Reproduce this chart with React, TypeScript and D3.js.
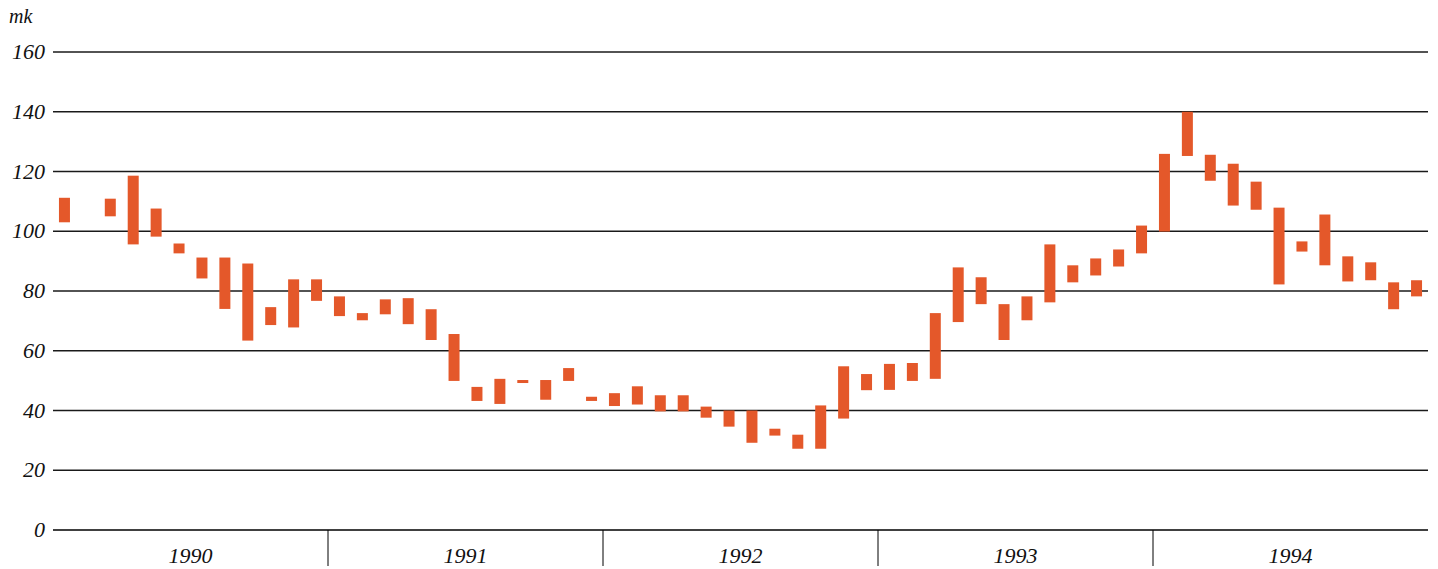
import React from "react";
import * as d3 from "d3";

const years = ["1990", "1991", "1992", "1993", "1994"];
const yTicks = [0, 20, 40, 60, 80, 100, 120, 140, 160];

// monthly low values (null = no data)
const lows: (number | null)[] = [
  103, null, 105, 95.6, 98.2, 92.6, 84.2, 74, 63.4, 68.6, 67.8, 76.7,
  71.6, 70.2, 72.2, 68.9, 63.6, 49.9, 43.2, 42.2, 49.2, 43.6, 49.9, 43.2,
  41.5, 42.0, 39.7, 39.7, 37.6, 34.6, 29.2, 31.6, 27.2, 27.2, 37.3, 46.8,
  46.9, 49.9, 50.6, 69.6, 75.6, 63.6, 70.2, 76.2, 82.9, 85.2, 88.2, 92.6,
  99.9, 125.2, 116.9, 108.6, 107.2, 82.2, 93.2, 88.6, 83.2, 83.6, 73.9, 78.2,
];
// monthly high values
const highs: (number | null)[] = [
  111.2, null, 110.9, 118.6, 107.6, 95.9, 91.2, 91.2, 89.2, 74.6, 83.9, 83.9,
  78.2, 72.6, 77.2, 77.6, 73.9, 65.6, 47.9, 50.6, 50.2, 50.2, 54.2, 44.6,
  45.8, 48.1, 45.1, 45.1, 41.3, 40.0, 40.0, 33.9, 31.9, 41.7, 54.8, 52.2,
  55.6, 55.9, 72.6, 87.9, 84.6, 75.6, 78.2, 95.6, 88.6, 90.9, 93.9, 101.9,
  125.9, 140.0, 125.6, 122.6, 116.6, 107.9, 96.6, 105.6, 91.6, 89.6, 82.9, 83.6,
];

const W = 1438;
const H = 569;
const left = 53;
const right = 1428;
const FONT = '"Liberation Serif", "DejaVu Serif", serif';
const textStyle: React.CSSProperties = {
  fontFamily: FONT,
  fontStyle: "italic",
  fontSize: 22,
};

export default function App() {
  const months = lows.map((_, i) => i);
  const x = d3
    .scaleBand<number>()
    .domain(months)
    .range([left, right])
    .paddingInner(0.52)
    .paddingOuter(0.26);
  const y = d3.scaleLinear().domain([0, 160]).range([530, 52]);
  const step = (right - left) / months.length;

  return (
    <svg
      width={W}
      height={H}
      style={{ position: "absolute", left: 0, top: 0, background: "#fff" }}
    >
      <text x={9} y={23} style={{ ...textStyle, fontSize: 20 }} fill="#111">
        mk
      </text>
      {yTicks.map((t) => (
        <g key={t}>
          <line
            x1={left}
            x2={right}
            y1={y(t)}
            y2={y(t)}
            stroke={t === 0 ? "#000" : "#1a1a1a"}
            strokeWidth={t === 0 ? 1.6 : 1.4}
          />
          <text x={45} y={y(t) + 7} textAnchor="end" style={textStyle} fill="#111">
            {t}
          </text>
        </g>
      ))}
      {years.map((yr, i) => {
        const x0 = left + i * 12 * step;
        const x1 = x0 + 12 * step;
        return (
          <g key={yr}>
            {i > 0 && (
              <line x1={x0} x2={x0} y1={530} y2={566} stroke="#000" strokeWidth={1} />
            )}
            <text
              x={(x0 + x1) / 2}
              y={563}
              textAnchor="middle"
              style={textStyle}
              fill="#111"
            >
              {yr}
            </text>
          </g>
        );
      })}
      {months.map((m) => {
        const lo = lows[m];
        const hi = highs[m];
        if (lo == null || hi == null) return null;
        return (
          <rect
            key={m}
            x={x(m)}
            width={x.bandwidth()}
            y={y(hi)}
            height={y(lo) - y(hi)}
            fill="#E4582A"
          />
        );
      })}
    </svg>
  );
}
